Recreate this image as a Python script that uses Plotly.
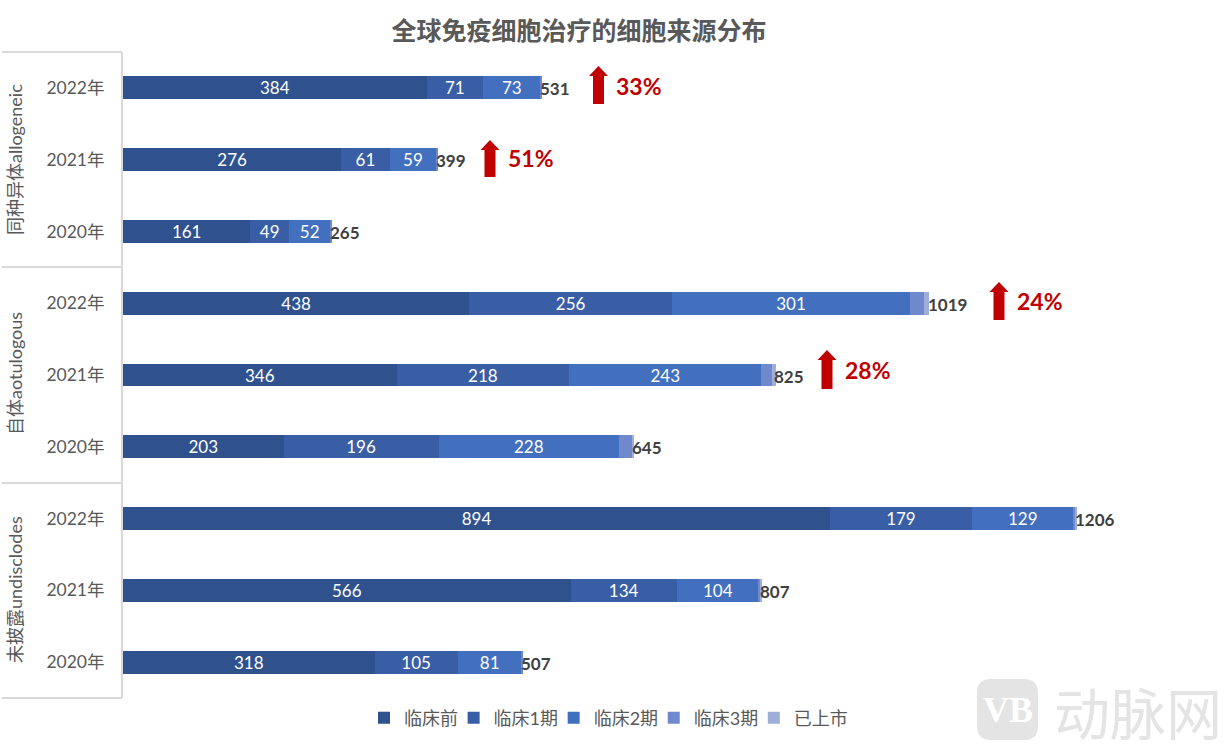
import plotly.graph_objects as go

W, H = 1232, 750
LEFT, RIGHT, TOP, BOTTOM = 123, 1200, 52, 698
FONT = "Lato, 'Noto Sans CJK SC', sans-serif"

# top to bottom
groups = ["同种异体allogeneic", "自体aotulogous", "未披露undisclodes"]
years = ["2022年", "2021年", "2020年"] * 3
keys = ["a2022", "a2021", "a2020", "b2022", "b2021", "b2020", "c2022", "c2021", "c2020"]

preclinical = [384, 276, 161, 438, 346, 203, 894, 566, 318]
phase1 = [71, 61, 49, 256, 218, 196, 179, 134, 105]
phase2 = [73, 59, 52, 301, 243, 228, 129, 104, 81]
phase3 = [1, 1, 1, 18, 14, 17, 2, 2, 1]
marketed = [0, 0, 0, 6, 4, 1, 2, 1, 0]
totals = [531, 399, 265, 1019, 825, 645, 1206, 807, 507]

growth_labels = ["33%", "51%", "24%", "28%"]

# the trailing nbsp only widens the legend entries
series = [
    ("临床前\u00a0", preclinical, "#2f528f", True),
    ("临床1期\u00a0", phase1, "#3a5ea6", True),
    ("临床2期\u00a0", phase2, "#4270bf", True),
    ("临床3期\u00a0", phase3, "#7089cd", False),
    ("已上市", marketed, "#9eaed9", False),
]


def px(x):
    return (x - LEFT) / (RIGHT - LEFT)


def py(y):
    return (BOTTOM - y) / (BOTTOM - TOP)


fig = go.Figure()

for name, values, color, labelled in series:
    fig.add_trace(go.Bar(
        name=name, y=keys, x=values, orientation="h",
        marker=dict(color=color, line=dict(width=0)),
        text=values if labelled else None,
        textposition="inside" if labelled else "none",
        insidetextanchor="middle", textangle=0, constraintext="none",
        textfont=dict(color="white", size=17, family=FONT),
        hoverinfo="x+name",
    ))

# totals sit just past the end of each stack
bar_ends = [sum(v) for v in zip(preclinical, phase1, phase2, phase3, marketed)]
for key, end, total in zip(keys, bar_ends, totals):
    fig.add_annotation(x=end, y=key, text=f"<b>{total}</b>", showarrow=False, xanchor="left", yanchor="middle",
                       xshift=-3.5, yshift=-1, font=dict(color="#404040", size=17, family=FONT))

# red growth arrows
arrows = [(598.5, 66, 104, 86), (490, 140, 177, 158), (999, 282, 320, 301), (827, 350, 389, 370)]
for (cx, top, bot, ty), label in zip(arrows, growth_labels):
    pts = [(cx - 5.5, bot), (cx - 5.5, top + 10), (cx - 9.5, top + 10), (cx, top),
           (cx + 9.5, top + 10), (cx + 5.5, top + 10), (cx + 5.5, bot)]
    path = "M" + " L".join(f"{px(x):.5f},{py(y):.5f}" for x, y in pts) + " Z"
    fig.add_shape(type="path", path=path, xref="paper", yref="paper",
                  fillcolor="#c00000", line=dict(width=0))
    fig.add_annotation(x=px(cx + 15.5), y=py(ty), xref="paper", yref="paper", text=f"<b>{label}</b>",
                       showarrow=False, xanchor="left", yanchor="middle",
                       font=dict(color="#c00000", size=23, family=FONT))

# group brackets on the left
for y in [52, 267, 483, 698]:
    fig.add_shape(type="line", xref="paper", yref="paper", x0=px(2), x1=px(122), y0=py(y), y1=py(y),
                  line=dict(color="#d9d9d9", width=2))
for name, y in zip(groups, [160, 374, 590]):
    fig.add_annotation(x=px(15), y=py(y), xref="paper", yref="paper", text=name, textangle=-90,
                       xanchor="center", yanchor="middle", showarrow=False,
                       font=dict(color="#595959", size=18, family=FONT))

# watermark
r = 14
l, t, rr, b = px(977), py(679), px(1038), py(740)
dx, dy = r / (RIGHT - LEFT), r / (BOTTOM - TOP)
fig.add_shape(type="path", xref="paper", yref="paper", fillcolor="#e4e4e4", line=dict(width=0), layer="below",
              path=f"M{l + dx},{t} L{rr - dx},{t} Q{rr},{t} {rr},{t - dy} L{rr},{b + dy} Q{rr},{b} {rr - dx},{b} "
                   f"L{l + dx},{b} Q{l},{b} {l},{b + dy} L{l},{t - dy} Q{l},{t} {l + dx},{t} Z")
fig.add_annotation(x=px(1007.5), y=py(710), xref="paper", yref="paper", text="<b>VB</b>", showarrow=False,
                   xanchor="center", yanchor="middle",
                   font=dict(color="white", size=36, family="Liberation Serif"))
fig.add_annotation(x=px(1137.5), y=py(710), xref="paper", yref="paper", text="动脉网", showarrow=False,
                   xanchor="center", yanchor="middle",
                   font=dict(color="#e4e4e4", size=56, family="Noto Sans CJK SC"))

fig.update_layout(
    width=W, height=H, barmode="stack", bargap=0.68,
    margin=dict(l=LEFT, r=W - RIGHT, t=TOP, b=H - BOTTOM, pad=0),
    paper_bgcolor="white", plot_bgcolor="white",
    font=dict(family=FONT, color="#595959"),
    title=dict(text="<b>全球免疫细胞治疗的细胞来源分布</b>", x=579 / W, xanchor="center", y=1 - 31 / H, yanchor="middle",
               font=dict(size=25, color="#595959", family=FONT)),
    xaxis=dict(range=[0, (RIGHT - LEFT) / 0.791], visible=False),
    yaxis=dict(type="category", categoryorder="array", categoryarray=keys, autorange="reversed",
               tickmode="array", tickvals=keys, ticktext=years,
               ticks="outside", ticklen=13, tickcolor="white", tickfont=dict(size=17.5, color="#595959", family=FONT),
               showline=True, linecolor="#d9d9d9", linewidth=2, showgrid=False, zeroline=False),
    legend=dict(orientation="h", traceorder="normal", x=px(378), y=py(718), xanchor="left", yanchor="middle",
                indentation=-14, font=dict(size=18, color="#595959", family=FONT), bgcolor="rgba(0,0,0,0)"),
    showlegend=True,
)

fig.write_html("out.html", config=dict(displayModeBar=False), post_script="document.body.style.margin='0';")
